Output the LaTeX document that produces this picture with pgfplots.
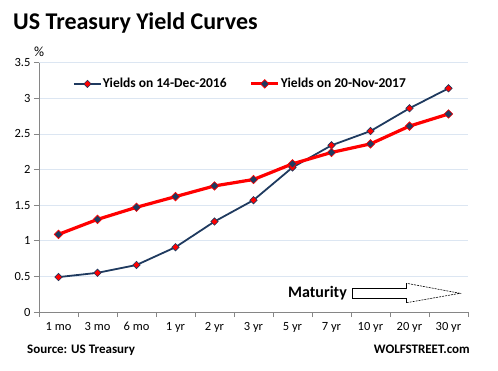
\documentclass[border=0pt]{standalone}
\usepackage{pgfplots}
\pgfplotsset{compat=1.18}
\usepackage{fontspec}
\setmainfont{Carlito}
\definecolor{navy}{HTML}{1F3A5F}
\definecolor{gridc}{HTML}{DCE6F2}
\definecolor{axc}{HTML}{868686}
\begin{document}
\begin{tikzpicture}
\useasboundingbox (0,0) rectangle (498pt,370pt);
\begin{axis}[
  scale only axis, width=429pt, height=249.3pt,
  at={(39pt,58pt)}, anchor=south west,
  xmin=-0.5, xmax=10.5, ymin=0, ymax=3.5,
  axis lines=left, axis line style={-, draw=axc, line width=0.8pt},
  xtick={-0.5,0.5,...,10.5},
  x tick label as interval,
  xticklabels={1 mo,3 mo,6 mo,1 yr,2 yr,3 yr,5 yr,7 yr,10 yr,20 yr,30 yr},
  ytick={0,0.5,...,3.5},
  tick align=outside,
  major tick length=5pt,
  tick style={draw=axc, line width=0.8pt},
  ymajorgrids, grid style={draw=gridc, line width=0.8pt},
  tick label style={font=\fontsize{12.5}{14}\selectfont, black},
  /pgf/number format/assume math mode=true,
  x tick label style={yshift=-2pt},
  legend columns=2,
  legend style={draw=none, fill=none, at={(axis description cs:0.079,0.915)}, anchor=west,
    font=\bfseries\fontsize{13.5}{15}\selectfont, inner sep=0pt,
    nodes={inner sep=1pt},
    /tikz/every even column/.append style={column sep=22pt}},
  legend image code/.code={\draw[mark repeat=2,mark phase=2] plot coordinates {(0pt,0pt) (13.5pt,0pt) (27pt,0pt)};},
]
\addplot[navy, line width=1.8pt, mark=square*, mark size=2.6pt,
  mark options={rotate=45, fill=red, draw=navy, line width=0.6pt, solid}]
  coordinates {(0,0.49) (1,0.55) (2,0.66) (3,0.91) (4,1.27) (5,1.57) (6,2.03) (7,2.34) (8,2.54) (9,2.86) (10,3.14)};
\addlegendentry{Yields on 14-Dec-2016}
\addplot[red, line width=3.2pt, mark=square*, mark size=3pt,
  mark options={rotate=45, fill=navy, draw=red, line width=0.6pt, solid}]
  coordinates {(0,1.09) (1,1.30) (2,1.47) (3,1.62) (4,1.77) (5,1.86) (6,2.08) (7,2.24) (8,2.36) (9,2.61) (10,2.78)};
\addlegendentry{Yields on 20-Nov-2017}
\end{axis}
\node[anchor=base west, inner sep=0, font=\bfseries\fontsize{24}{28}\selectfont] at (13pt,340pt) {US Treasury Yield Curves};
\node[anchor=base west, inner sep=0, font=\fontsize{14}{16}\selectfont] at (34pt,313pt) {\%};
\node[anchor=base west, inner sep=0, font=\bfseries\fontsize{13}{15}\selectfont] at (27pt,17pt) {Source: US Treasury};
\node[anchor=base east, inner sep=0, font=\bfseries\fontsize{13}{15}\selectfont] at (470pt,17pt) {WOLFSTREET.com};
\node[anchor=base west, inner sep=0, font=\bfseries\fontsize{16}{18}\selectfont] at (288pt,73pt) {Maturity};
\draw[black, line width=0.6pt] (406.7pt,86.7pt) -- (406.7pt,81.7pt) -- (352.7pt,81.7pt) -- (352.7pt,71.7pt) -- (406.7pt,71.7pt) -- (406.7pt,67.3pt);
\draw[black, line width=0.6pt, dash pattern=on 2pt off 1pt] (406.7pt,67.3pt) -- (460pt,76.7pt) -- (406.7pt,86.7pt);
\end{tikzpicture}
\end{document}
